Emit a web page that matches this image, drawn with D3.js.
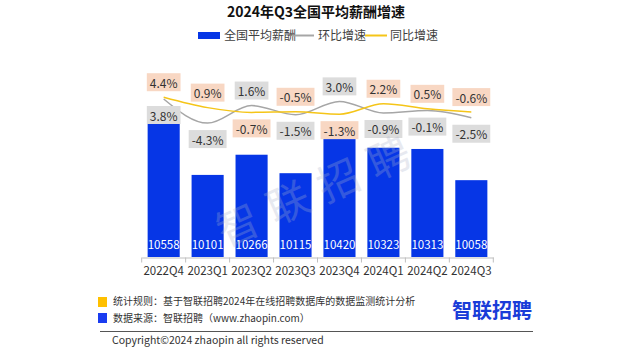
<!DOCTYPE html>
<html><head><meta charset="utf-8">
<script src="https://cdn.jsdelivr.net/npm/d3@7"></script>
<style>
html,body{margin:0;padding:0;background:#fff;}
svg{display:block;font-family:"Noto Sans CJK SC","Microsoft YaHei",sans-serif;}
</style></head>
<body>
<svg id="c" width="633" height="349"></svg>
<script>
const categories = ["2022Q4","2023Q1","2023Q2","2023Q3","2023Q4","2024Q1","2024Q2","2024Q3"];
const salary = [10558,10101,10266,10115,10420,10323,10313,10058];
const qoq = [3.8,-4.3,1.6,-1.5,3.0,-0.9,-0.1,-2.5];   // 环比增速
const yoy = [4.4,0.9,-0.7,-0.5,-1.3,2.2,0.5,-0.6];   // 同比增速
const title = "2024年Q3全国平均薪酬增速";
const legendNames = ["全国平均薪酬","环比增速","同比增速"];

const svg = d3.select("#c");
const FONT = '"Noto Sans CJK SC",sans-serif';
const blue = "#0636e6", gray = "#a6a6a6", yellow = "#f5c518";

const x = d3.scaleBand().domain(categories).range([141.7,493.3]).paddingInner(0.27).paddingOuter(0.135);
const y = d3.scaleLinear().domain([9430,10558]).range([257,119]);
const yp = d3.scaleLinear().domain([0,3.8]).range([110.3,99]);

// title
svg.append("text").attr("x",316).attr("y",17).attr("text-anchor","middle")
  .attr("font-family",FONT).attr("font-size",14).attr("font-weight","bold").attr("fill","#111").text(title);

// legend
const lg = svg.append("g").attr("font-family",FONT).attr("font-size",12).attr("fill","#404040");
lg.append("rect").attr("x",198).attr("y",32).attr("width",22).attr("height",7).attr("fill",blue);
lg.append("text").attr("x",224).attr("y",40).text(legendNames[0]);
lg.append("line").attr("x1",292).attr("x2",314).attr("y1",35.5).attr("y2",35.5).attr("stroke",gray).attr("stroke-width",2);
lg.append("text").attr("x",318).attr("y",40).text(legendNames[1]);
lg.append("line").attr("x1",365).attr("x2",387).attr("y1",35.5).attr("y2",35.5).attr("stroke",yellow).attr("stroke-width",2);
lg.append("text").attr("x",390).attr("y",40).text(legendNames[2]);

// bars
svg.append("g").selectAll("rect").data(salary).join("rect")
  .attr("x",(d,i)=>x(categories[i])).attr("width",x.bandwidth())
  .attr("y",d=>y(d)).attr("height",d=>y.range()[0]-y(d)).attr("fill",blue);
svg.append("g").selectAll("text").data(salary).join("text")
  .attr("x",(d,i)=>x(categories[i])+x.bandwidth()/2).attr("y",249)
  .attr("text-anchor","middle").attr("font-family",FONT).attr("font-size",11.5).attr("fill","#fff").text(d=>d);

// axis
const xa = svg.append("g").attr("transform","translate(0,257.5)")
  .call(d3.axisBottom(x).tickSize(0).tickPadding(9));
xa.select(".domain").attr("stroke","#bfbfbf");
xa.selectAll("text").attr("font-family",FONT).attr("font-size",11.5).attr("fill","#333");
const bounds = d3.range(categories.length+1).map(i=>141.7+i*(493.3-141.7)/categories.length);
xa.selectAll(".bt").data(bounds).join("line").attr("class","bt")
  .attr("x1",d=>d).attr("x2",d=>d).attr("y1",0).attr("y2",5).attr("stroke","#bfbfbf");

// lines
const cx = i => x(categories[i]) + x.bandwidth()/2;
const lineGen = d3.line().x((d,i)=>cx(i)).y(d=>yp(d)).curve(d3.curveMonotoneX);
svg.append("path").attr("d",lineGen(qoq)).attr("fill","none").attr("stroke",gray).attr("stroke-width",1.5);
svg.append("path").attr("d",lineGen(yoy)).attr("fill","none").attr("stroke",yellow).attr("stroke-width",1.5);

// labels
function label(v, i, above, bg){
  const py = yp(v);
  const cy = above ? py-15 : py+16;
  const g = svg.append("g");
  const t = g.append("text").attr("x",cx(i)).attr("y",cy).attr("text-anchor","middle")
    .attr("dominant-baseline","central").attr("font-family",FONT).attr("font-size",12).attr("fill","#333")
    .text(v.toFixed(1)+"%");
  const w = t.node().getComputedTextLength()+6;
  g.insert("rect","text").attr("x",cx(i)-w/2).attr("y",cy-9).attr("width",w).attr("height",18).attr("fill",bg);
}
categories.forEach((c,i)=>{
  const yAbove = yoy[i] >= qoq[i];
  label(yoy[i], i, yAbove, "#f8d7c3");
  label(qoq[i], i, !yAbove, "#dcdcdc");
});

// watermark (on top, translucent)
svg.append("text").attr("transform","translate(318,186) rotate(-24)")
  .attr("text-anchor","middle").attr("dominant-baseline","central")
  .attr("font-family",FONT).attr("font-size",42).attr("letter-spacing",13)
  .attr("fill","#aab3cc").attr("opacity",0.28).text("智联招聘");

// footer
const ft = svg.append("g").attr("font-family",FONT).attr("font-size",10).attr("fill","#333");
ft.append("rect").attr("x",98).attr("y",297).attr("width",9).attr("height",10).attr("fill","#ffc000");
ft.append("text").attr("x",113).attr("y",305).text("统计规则：基于智联招聘2024年在线招聘数据库的数据监测统计分析");
ft.append("rect").attr("x",98).attr("y",313).attr("width",9).attr("height",10).attr("fill","#1a3cf0");
ft.append("text").attr("x",113).attr("y",322).text("数据来源：智联招聘（www.zhaopin.com）");
ft.append("line").attr("x1",100).attr("x2",533).attr("y1",331.5).attr("y2",331.5).attr("stroke","#555").attr("stroke-width",1);
ft.append("text").attr("x",112).attr("y",344).attr("font-size",10.5).text("Copyright©2024 zhaopin all rights reserved");
svg.append("text").attr("x",492).attr("y",318).attr("text-anchor","middle").attr("font-family",FONT)
  .attr("font-size",20).attr("font-weight","bold").attr("fill","#1a3cd8").text("智联招聘");
</script>
</body></html>
